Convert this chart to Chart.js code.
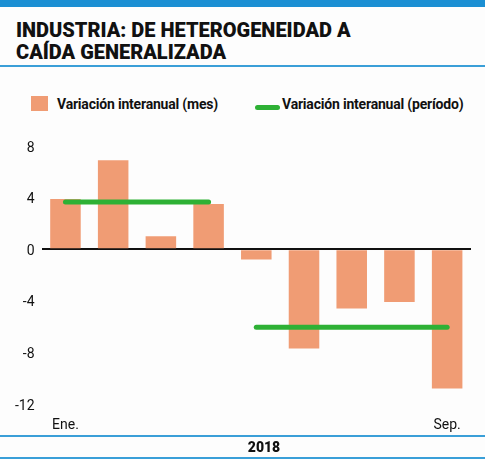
<!DOCTYPE html>
<html>
<head>
<meta charset="utf-8">
<script src="https://cdn.jsdelivr.net/npm/chart.js@4"></script>
<style>
  body { margin: 0; background: #fdfdfd; width: 485px; height: 459px; overflow: hidden; position: relative; font-family: "Roboto", sans-serif; }
  .topbar { position: absolute; left: 0; top: 0; width: 485px; height: 7px; background: #1b8fd3; }
  .title { position: absolute; left: 16px; top: 19px; font-size: 20px; line-height: 22px; font-weight: 900; color: #111; }
  .rule { position: absolute; left: 0; width: 485px; height: 2px; background: #3a9fd8; }
  .legend { position: absolute; top: 96px; font-size: 14px; font-weight: bold; color: #111; letter-spacing: -0.2px; }
  .sw-bar { position: absolute; left: 31px; top: 96px; width: 17px; height: 15px; background: #f09c74; }
  .sw-line { position: absolute; left: 255px; top: 105px; width: 25px; height: 5px; border-radius: 3px; background: #2eb135; }
  .year { position: absolute; top: 439px; left: 0; width: 528px; text-align: center; font-size: 14px; font-weight: 900; color: #111; }
  canvas { position: absolute; left: 0; top: 0; }
</style>
</head>
<body>
<div class="topbar"></div>
<div class="title">INDUSTRIA: DE HETEROGENEIDAD A<br>CAÍDA GENERALIZADA</div>
<div class="rule" style="top:65px;height:2px"></div>
<div class="sw-bar"></div>
<div class="legend" style="left:57px">Variación interanual (mes)</div>
<div class="sw-line"></div>
<div class="legend" style="left:282px">Variación interanual (período)</div>
<div style="position:absolute;left:0;top:0;width:485px;height:459px"><canvas id="chart"></canvas></div>
<div class="rule" style="top:435px"></div>
<div class="year">2018</div>
<div class="rule" style="top:457px"></div>
<script>
// Data
const meses = ["Ene.", "Feb.", "Mar.", "Abr.", "May.", "Jun.", "Jul.", "Ago.", "Sep."];
const variacionMes = [3.9, 6.9, 1.0, 3.5, -0.8, -7.7, -4.6, -4.1, -10.8];
const periodoPrimero = [3.65, 3.65, 3.65, 3.65, null, null, null, null, null];
const periodoSegundo = [null, null, null, null, -6.05, -6.05, -6.05, -6.05, -6.05];
const yTicks = [8, 4, 0, -4, -8, -12];

const periodStyle = {
    type: "line",
    borderColor: "#2eb135",
    borderWidth: 5,
    borderCapStyle: "round",
    pointRadius: 0,
    spanGaps: false,
    order: 0
};

const ctx = document.querySelector("#chart").getContext("2d");

new Chart(ctx, {
    type: "bar",
    data: {
        labels: meses,
        datasets: [
            { label: "Variación interanual (mes)", data: variacionMes, backgroundColor: "#f09c74", barPercentage: 0.8, categoryPercentage: 0.8, order: 1 },
            Object.assign({ label: "Variación interanual (período)", data: periodoPrimero }, periodStyle),
            Object.assign({ label: "Variación interanual (período) 2", data: periodoSegundo }, periodStyle)
        ]
    },
    options: {
        responsive: true,
        maintainAspectRatio: false,
        animation: false,
        layout: { padding: { left: 0, right: 14, top: 146, bottom: 20 } },
        plugins: { legend: { display: false }, tooltip: { enabled: false } },
        scales: {
            x: {
                grid: { display: false },
                border: { display: false },
                afterFit: s => { s.height = 35; },
                ticks: {
                    autoSkip: false,
                    maxRotation: 0,
                    color: "#111",
                    font: { family: "Roboto, sans-serif", size: 14 },
                    padding: 5,
                    callback: (v, i) => (i === 0 || i === meses.length - 1) ? meses[i] : ""
                }
            },
            y: {
                min: -12,
                max: 8,
                afterFit: s => { s.width = 41.6; },
                afterBuildTicks: s => { s.ticks = yTicks.map(v => ({ value: v })); },
                border: { display: false },
                grid: {
                    drawTicks: false,
                    color: c => c.tick && c.tick.value === 0 ? "#111" : "transparent",
                    lineWidth: 2
                },
                ticks: {
                    color: "#111",
                    font: { family: "Roboto, sans-serif", size: 14 },
                    padding: 7,
                    labelOffset: 2
                }
            }
        }
    }
});
</script>
</body>
</html>
